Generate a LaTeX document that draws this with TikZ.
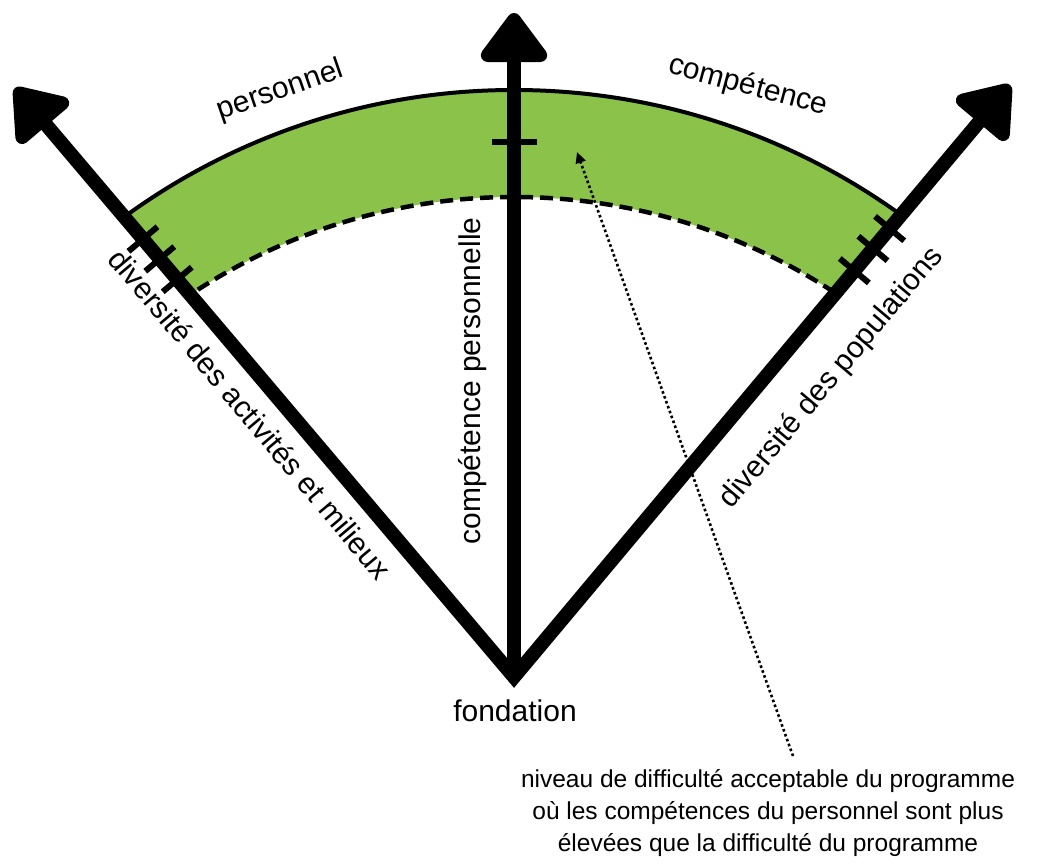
\documentclass[tikz,border=0pt]{standalone}
\usepackage{fontspec}
\setmainfont{Liberation Sans}
\usetikzlibrary{arrows.meta,calc}
\definecolor{bandgreen}{RGB}{139,195,74}
\tikzset{
  bigtip/.tip={Triangle[length=54pt,width=76pt,round]},
  axisline/.style={line width=14pt, line join=miter},
  tickmark/.style={line width=6pt},
  outerarc/.style={line width=4pt},
  innerarc/.style={line width=4.5pt, dash pattern=on 13pt off 7pt},
  noteline/.style={line width=2.6pt, dash pattern=on 2.6pt off 2.6pt, -{Triangle[length=11pt,width=10pt]}},
  lab/.style={font=\fontsize{30}{36}\selectfont, inner sep=0pt, anchor=base},
  notelab/.style={font=\fontsize{24.5}{29}\selectfont, inner sep=0pt, anchor=base}
}
\begin{document}
\begin{tikzpicture}[x=1pt,y=1pt]
\useasboundingbox (0,0) rectangle (1044,867);
\coordinate (O) at (514,190);
\coordinate (Ttip) at (514,854);
\coordinate (Ltip) at (15,779);
\coordinate (Rtip) at (1010,782);
\coordinate (Cout) at (514,115.4);
\coordinate (Cin) at (514,85);

% green band
\begin{scope}
  \clip (O) -- ($(O)+(130.27:900)$) -- ($(O)+(90:900)$) -- ($(O)+(50.05:900)$) -- cycle;
  \fill[bandgreen, even odd rule] (Cout) circle (661.6) (Cin) circle (585);
  \draw[outerarc] (Cout) circle (661.6);
  \draw[innerarc] (Cin) circle (585);
\end{scope}

% axes
\draw[axisline, {bigtip}-{bigtip}] (Ltip) -- (O) -- (Rtip);
\draw[axisline, -{bigtip}] (O) -- (Ttip);

% ticks
\foreach \d [count=\i] in {521,548,574} {
  \coordinate (lt\i) at ($(O)+(130.27:\d)$);
  \draw[tickmark] ($(lt\i)+(40.27:19)$) -- ($(lt\i)+(220.27:19)$);
}
\foreach \d [count=\i] in {530,559,585} {
  \coordinate (rt\i) at ($(O)+(50.05:\d)$);
  \draw[tickmark] ($(rt\i)+(140.05:19)$) -- ($(rt\i)+(-39.95:19)$);
}
\coordinate (ct) at ($(O)+(90:535)$);
\draw[tickmark] ($(ct)+(-22.5,0)$) -- ($(ct)+(22.5,0)$);

% labels
\node[lab, rotate=19] (lpers) at (283,769) {personnel};
\node[lab, rotate=-15] (lcomp) at (746,773) {compétence};
\node[lab, rotate=90] (lcp) at (480,486) {compétence personnelle};
\node[lab, rotate=-50] (ldiva) at (242,446) {diversité des activités et milieux};
\node[lab, rotate=50] (ldivp) at (838,484) {diversité des populations};
\node[lab] (lfond) at (515,145) {fondation};

\node[notelab] (n1) at (768,79) {niveau de difficulté acceptable du programme};
\node[notelab] (n2) at (768,47) {où les compétences du personnel sont plus};
\node[notelab] (n3) at (768,15) {élevées que la difficulté du programme};

\coordinate (nstart) at (793,111);
\coordinate (ntip) at (577,715);
\draw[noteline] (nstart) -- (ntip);
\end{tikzpicture}
\end{document}
